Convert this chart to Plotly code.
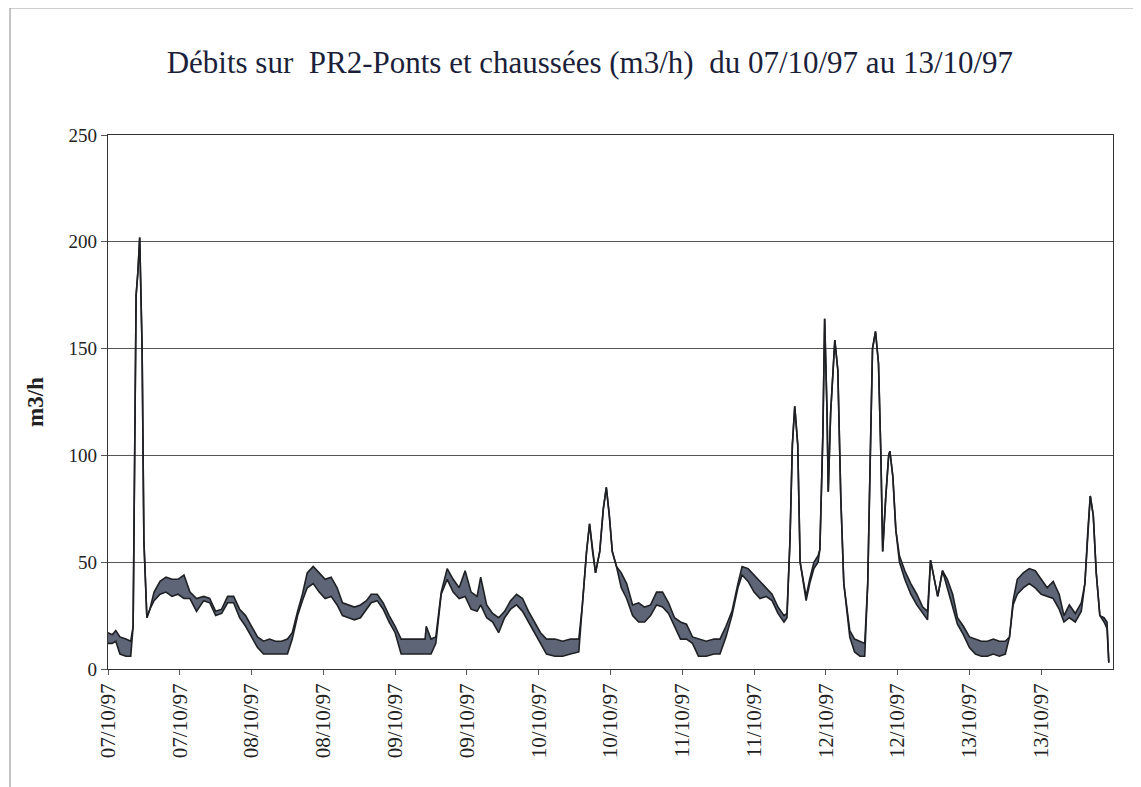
import plotly.graph_objects as go
import pandas as pd

# Time knots (hours after 07/10/97 00:00) with the low / high edge of the noisy flow band (m3/h)
hours = [0, 0.7, 1.3, 2, 3, 3.8, 4.2, 4.7, 5, 5.3,
         5.7, 6, 6.5, 7, 7.7, 8.7, 9.7, 10.7, 11.7, 12.7,
         13.7, 14.8, 16, 17, 18, 19, 20, 21, 22, 23,
         24, 25, 26, 27, 28, 29, 30, 30.8, 31.7, 32.5,
         33.3, 34.3, 35.3, 36.3, 37.3, 38.3, 39.2, 40.2, 41.2, 42.2,
         43.2, 44, 45, 46, 47, 48, 49, 50, 51, 52,
         53, 53.2, 54, 54.8, 55.7, 56.7, 57.7, 58.7, 59.7, 60.7,
         61.7, 62.3, 63.3, 64.3, 65.3, 66.3, 67.3, 68.3, 69.3, 70.3,
         71.3, 72.3, 73.3, 74.7, 76, 77.3, 78.7, 79.3, 80, 80.5,
         81, 81.5, 82.2, 82.8, 83.3, 83.8, 84.3, 85, 85.8, 86.7,
         87.7, 88.7, 89.7, 90.7, 91.7, 92.7, 93.7, 94.7, 95.7, 96.7,
         97.7, 98.7, 100, 101.3, 102.3, 103.3, 104.3, 105.3, 106, 107,
         108, 109, 110, 111, 112, 113, 113.5, 114, 114.4, 114.8,
         115.3, 115.7, 116.2, 116.7, 117.3, 118, 118.7, 119, 119.5, 119.8,
         120.2, 120.4, 120.8, 121.5, 122, 122.5, 123, 123.7, 124, 124.8,
         125.7, 126.5, 127, 127.5, 127.8, 128.3, 128.8, 129.2, 129.5, 130,
         130.5, 130.7, 131.2, 131.7, 132.3, 133.2, 134.2, 135.2, 136.2, 137,
         137.5, 138.7, 139.5, 140.3, 141.2, 142, 143, 144, 145, 146,
         147, 148, 149, 150, 150.7, 151.3, 152, 153, 154, 155,
         156, 157, 158, 159, 159.8, 160.7, 161.7, 162.7, 163.3, 163.8,
         164.2, 164.7, 165.2, 165.8, 166.5, 167, 167.3]
low = [12, 12, 13, 7, 6, 6, 20, 175, 186, 202,
       150, 60, 24, 28, 32, 35, 36, 34, 35, 33,
       33, 27, 32, 31, 25, 26, 31, 31, 24, 20,
       15, 10, 7, 7, 7, 7, 7, 14, 25, 32,
       38, 40, 36, 33, 34, 30, 25, 24, 23, 24,
       28, 31, 32, 28, 22, 17, 7, 7, 7, 7,
       7, 7, 7, 12, 35, 42, 36, 33, 34, 28,
       27, 30, 24, 22, 17, 24, 28, 30, 27, 22,
       17, 12, 7, 6, 6, 7, 8, 30, 55, 68,
       55, 45, 55, 75, 85, 72, 55, 48, 38, 33,
       25, 22, 22, 25, 30, 29, 26, 20, 14, 14,
       12, 6, 6, 7, 7, 15, 25, 38, 44, 41,
       36, 33, 34, 32, 26, 22, 24, 60, 105, 123,
       105, 50, 40, 32, 40, 47, 50, 56, 110, 164,
       120, 83, 120, 154, 140, 80, 40, 23, 15, 8,
       6, 6, 40, 110, 150, 158, 143, 100, 55, 80,
       100, 102, 90, 65, 50, 42, 35, 30, 26, 23,
       51, 34, 46, 38, 30, 21, 16, 10, 7, 6,
       6, 7, 6, 7, 15, 30, 35, 38, 40, 38,
       35, 34, 33, 28, 22, 24, 22, 27, 40, 65,
       81, 72, 45, 25, 22, 19, 3]
high = [17, 16, 18, 15, 14, 13, 20, 175, 186, 202,
        150, 60, 24, 28, 36, 41, 43, 42, 42, 44,
        36, 33, 34, 33, 27, 28, 34, 34, 28, 25,
        20, 15, 13, 14, 13, 13, 14, 17, 27, 35,
        45, 48, 45, 42, 43, 38, 31, 30, 29, 30,
        32, 35, 35, 31, 25, 20, 14, 14, 14, 14,
        14, 20, 14, 15, 36, 47, 42, 38, 46, 36,
        34, 43, 30, 26, 24, 27, 32, 35, 33, 27,
        22, 17, 14, 14, 13, 14, 14, 30, 55, 68,
        55, 45, 55, 75, 85, 72, 55, 48, 45, 40,
        30, 31, 29, 30, 36, 36, 31, 24, 22, 21,
        15, 14, 13, 14, 14, 20, 27, 40, 48, 47,
        44, 41, 38, 35, 29, 25, 26, 60, 105, 123,
        105, 50, 42, 34, 42, 50, 53, 56, 110, 164,
        120, 83, 120, 154, 140, 80, 40, 23, 18, 14,
        13, 12, 40, 110, 150, 158, 143, 100, 55, 80,
        100, 102, 90, 65, 53, 46, 40, 35, 29, 27,
        51, 34, 46, 42, 35, 24, 20, 15, 14, 13,
        13, 14, 13, 13, 15, 32, 42, 45, 47, 46,
        42, 38, 41, 35, 25, 30, 26, 31, 40, 65,
        81, 72, 45, 25, 24, 22, 3]
assert len(hours) == len(low) == len(high)

tick_hours = [0, 12, 24, 36, 48, 60, 72, 84, 96, 108, 120, 132, 144, 156]
tick_labels = ["07/10/97", "07/10/97", "08/10/97", "08/10/97", "09/10/97", "09/10/97", "10/10/97",
               "10/10/97", "11/10/97", "11/10/97", "12/10/97", "12/10/97", "13/10/97", "13/10/97"]
y_ticks = [0, 50, 100, 150, 200, 250]

base = pd.Timestamp("1997-10-07 00:00")
x = base + pd.to_timedelta(hours, unit="h")
tx = base + pd.to_timedelta(tick_hours, unit="h")
x_end = base + pd.Timedelta(hours=168)

SERIF = "Liberation Serif, Times New Roman, serif"
LINE = "#1e2024"

fig = go.Figure()
fig.add_trace(go.Scatter(x=x, y=low, mode="lines", line=dict(color=LINE, width=1.6),
                         showlegend=False, hoverinfo="skip"))
fig.add_trace(go.Scatter(x=x, y=high, mode="lines", line=dict(color=LINE, width=1.6),
                         fill="tonexty", fillcolor="#5d6576", showlegend=False))

fig.update_layout(
    width=1141, height=787,
    paper_bgcolor="white", plot_bgcolor="white",
    margin=dict(l=100, r=36, t=127, b=126),
    title=dict(text="Débits sur  PR2-Ponts et chaussées (m3/h)  du 07/10/97 au 13/10/97",
               x=0.51, xanchor="center", y=0.931, yanchor="middle",
               font=dict(family=SERIF, size=31, color="#1c1f3a")),
    font=dict(family=SERIF, color="#222"),
    xaxis=dict(type="date", range=[base, x_end], tickvals=tx, ticktext=tick_labels,
               tickangle=-90, tickfont=dict(family=SERIF, size=21, color="#222"),
               showgrid=False, showline=True, linecolor="#333", linewidth=1.2, mirror=True,
               ticks="outside", ticklen=5, tickcolor="#555", zeroline=False),
    yaxis=dict(range=[0, 250], tickvals=y_ticks, tickfont=dict(family=SERIF, size=19, color="#222"),
               showgrid=True, gridcolor="#555", gridwidth=1,
               showline=True, linecolor="#333", linewidth=1.2, mirror=True,
               ticks="outside", ticklen=6, tickcolor="#555", zeroline=False,
               title=dict(text="<b>m3/h</b>", font=dict(family=SERIF, size=23, color="#222"),
                          standoff=18)),
)

# outer chart-area frame (scanned page border)
fig.add_shape(type="rect", xref="paper", yref="paper", x0=-0.0975, x1=1.023, y0=-0.35, y1=1.238,
              line=dict(color="#888", width=1), fillcolor="rgba(0,0,0,0)", layer="below")

fig.write_html("out.html")
